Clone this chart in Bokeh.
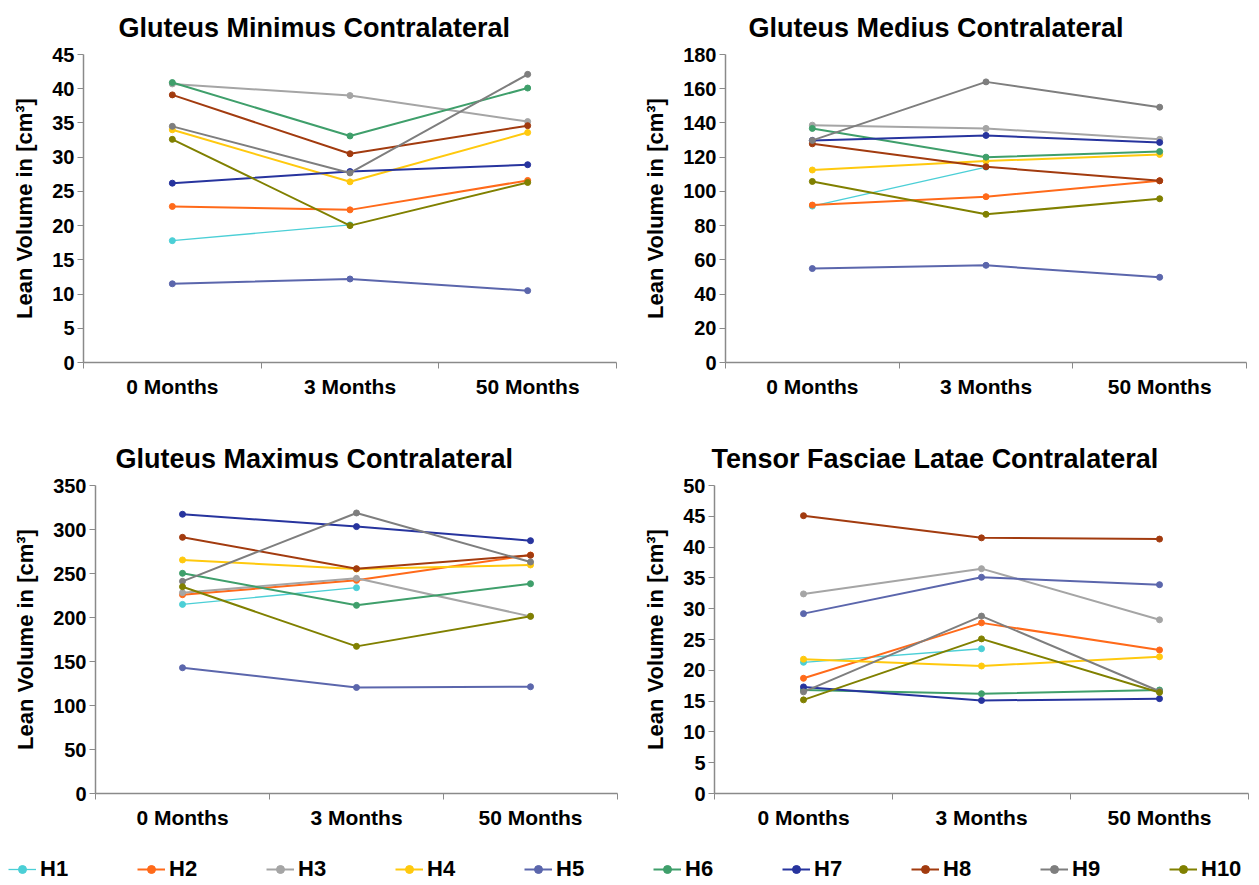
import math
from bokeh.plotting import figure
from bokeh.layouts import column, row
from bokeh.models import (FixedTicker, SingleIntervalTicker, Range1d, Legend,
                          LegendItem, ColumnDataSource)
from bokeh.embed import file_html
from bokeh.resources import INLINE

NaN = float("nan")

categories = ["0 Months", "3 Months", "50 Months"]
series_names = ["H1", "H2", "H3", "H4", "H5", "H6", "H7", "H8", "H9", "H10"]
series_colors = ["#4BCFD6", "#FF6A1A", "#A5A5A5", "#FFC90E", "#5B66AC",
                 "#3F9F6B", "#27349E", "#A23B0F", "#7E7E7E", "#808000"]

# Lean volume [cm^3], rows = H1..H10, columns = 0 / 3 / 50 months
gluteus_minimus = [
    [17.8, 20.1, NaN],
    [22.8, 22.3, 26.6],
    [40.7, 39.0, 35.2],
    [34.0, 26.4, 33.6],
    [11.5, 12.2, 10.5],
    [40.9, 33.1, 40.1],
    [26.2, 27.9, 28.9],
    [39.1, 30.5, 34.6],
    [34.5, 27.7, 42.1],
    [32.6, 20.0, 26.3],
]
gluteus_medius = [
    [91.4, 114.2, NaN],
    [92.0, 96.9, 106.2],
    [138.7, 136.8, 130.4],
    [112.5, 117.7, 121.6],
    [54.9, 56.8, 49.8],
    [136.8, 120.0, 123.3],
    [129.8, 132.7, 128.6],
    [127.8, 114.4, 106.2],
    [129.8, 164.0, 149.2],
    [105.8, 86.6, 95.7],
]
gluteus_maximus = [
    [214.9, 233.9, NaN],
    [225.9, 242.2, 271.0],
    [228.2, 244.5, 201.3],
    [265.4, 255.1, 259.7],
    [142.9, 120.5, 121.3],
    [250.2, 213.8, 238.4],
    [317.3, 303.3, 287.3],
    [291.1, 255.5, 270.7],
    [241.1, 318.8, 263.1],
    [235.0, 167.2, 201.3],
]
tensor_fasciae_latae = [
    [21.3, 23.5, NaN],
    [18.7, 27.7, 23.3],
    [32.4, 36.5, 28.2],
    [21.8, 20.7, 22.2],
    [29.2, 35.1, 33.9],
    [16.8, 16.2, 16.8],
    [17.3, 15.1, 15.4],
    [45.1, 41.5, 41.3],
    [16.5, 28.8, 16.6],
    [15.2, 25.1, 16.4],
]

FONT = "Liberation Sans"
AXIS_COLOR = "#8A8A8A"
xs = [i + 0.5 for i in range(len(categories))]


def make_panel(title, data, ymax, ystep, borders, frame_w, frame_h, title_offset):
    left, right, top, bottom = borders
    p = figure(frame_width=frame_w, frame_height=frame_h,
               min_border_left=left, min_border_right=right,
               min_border_top=top, min_border_bottom=bottom,
               x_range=Range1d(0, len(categories)), y_range=Range1d(0, ymax),
               output_backend="svg", toolbar_location=None, title=title)
    p.outline_line_color = None
    p.grid.visible = False
    p.title.text_font = FONT
    p.title.text_font_size = "27px"
    p.title.text_font_style = "bold"
    p.title.text_color = "black"
    p.title.text_line_height = 0.75
    p.title.align = "left"
    p.title.vertical_align = "top"
    p.title.offset = title_offset
    p.title.standoff = 19

    for name, color, vals in zip(series_names, series_colors, data):
        src = ColumnDataSource(dict(x=xs, y=vals))
        lw = 1.3 if name == "H1" else 2.0
        p.line("x", "y", source=src, line_color=color, line_width=lw)
        p.scatter("x", "y", source=src, size=6, marker="circle",
                  fill_color=color, line_color=color)

    xa = p.xaxis[0]
    xa.ticker = FixedTicker(ticks=xs, minor_ticks=list(range(len(categories) + 1)))
    xa.major_label_overrides = {x: c for x, c in zip(xs, categories)}
    xa.major_tick_line_color = None
    xa.minor_tick_line_color = AXIS_COLOR
    xa.minor_tick_in = 0
    xa.minor_tick_out = 6
    xa.axis_line_color = AXIS_COLOR
    xa.axis_line_width = 1.5
    xa.major_label_text_font = FONT
    xa.major_label_text_font_size = "21px"
    xa.major_label_text_font_style = "bold"
    xa.major_label_text_color = "black"
    xa.major_label_standoff = 6

    ya = p.yaxis[0]
    ya.ticker = SingleIntervalTicker(interval=ystep, num_minor_ticks=0)
    ya.axis_line_color = AXIS_COLOR
    ya.axis_line_width = 1.5
    ya.major_tick_line_color = AXIS_COLOR
    ya.major_tick_in = 0
    ya.major_tick_out = 6
    ya.minor_tick_line_color = None
    ya.major_label_text_font = FONT
    ya.major_label_text_font_size = "20px"
    ya.major_label_text_font_style = "bold"
    ya.major_label_text_color = "black"
    ya.major_label_standoff = 3
    ya.axis_label = "Lean Volume in [cm³]"
    ya.axis_label_text_font = FONT
    ya.axis_label_text_font_size = "22px"
    ya.axis_label_text_font_style = "bold"
    ya.axis_label_text_color = "black"
    ya.axis_label_standoff = 12
    return p


p1 = make_panel("Gluteus Minimus Contralateral", gluteus_minimus, 45, 5,
                (83, 24, 54, 58), 533, 308, 35)
p2 = make_panel("Gluteus Medius Contralateral", gluteus_medius, 180, 20,
                (79, 11, 54, 58), 521, 308, 23)
p3 = make_panel("Gluteus Maximus Contralateral", gluteus_maximus, 350, 50,
                (95, 23, 65, 42), 522, 308, 20)
p4 = make_panel("Tensor Fasciae Latae Contralateral", tensor_fasciae_latae, 50, 5,
                (67, 10, 65, 42), 534, 308, -3)

# legend strip (its renderers lie outside the visible range; only the legend shows)
pl = figure(width=1251, height=50, min_border=0, x_range=Range1d(100, 101),
            y_range=Range1d(100, 101), x_axis_location=None, y_axis_location=None,
            output_backend="svg", toolbar_location=None)
pl.outline_line_color = None
pl.grid.visible = False
items = []
for name, color, vals in zip(series_names, series_colors, gluteus_minimus):
    src = ColumnDataSource(dict(x=xs, y=vals))
    lw = 1.3 if name == "H1" else 2.0
    r1 = pl.line("x", "y", source=src, line_color=color, line_width=lw)
    r2 = pl.scatter("x", "y", source=src, size=6, marker="circle",
                    fill_color=color, line_color=color)
    items.append(LegendItem(label=name, renderers=[r1, r2]))
legend = Legend(items=items, orientation="horizontal", location=(8, 3),
                glyph_width=28, glyph_height=20, label_standoff=4,
                label_width=97, label_height=20, spacing=0, padding=0, margin=0,
                label_text_font=FONT, label_text_font_size="22px",
                label_text_font_style="bold", label_text_color="black",
                border_line_alpha=0, background_fill_alpha=0)
pl.add_layout(legend)

layout = column(row(p1, p2), row(p3, p4), pl)
open("out.html", "w").write(file_html(layout, INLINE))
